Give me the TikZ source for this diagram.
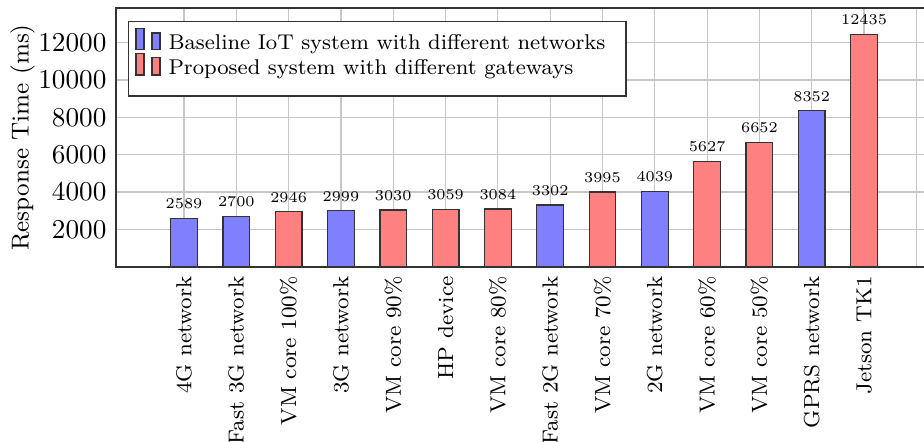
\documentclass[tikz,border=0pt]{standalone}
\definecolor{bblue}{RGB}{128,128,255}
\definecolor{bred}{RGB}{255,128,128}
\tikzset{
  barbox/.style={draw=black!80, line width=0.45pt},
  gridline/.style={draw=black!22, line width=0.45pt},
  axisline/.style={draw=black!80, line width=0.6pt},
  vallab/.style={font=\fontsize{5.5}{6}\selectfont, inner sep=0pt, anchor=base},
  xlab/.style={font=\fontsize{8}{9}\selectfont, rotate=90, anchor=east, inner sep=0.333em},
  ylab/.style={font=\fontsize{10}{12}\selectfont, anchor=east, inner sep=0.333em},
  legtext/.style={font=\fontsize{7.85}{9}\selectfont, anchor=base west, inner sep=0pt},
}
\begin{document}
\begin{tikzpicture}[x=0.3676pt, y=-0.3676pt]
\useasboundingbox (0,0) rectangle (924,442);
\clip (0,0) rectangle (924,442);
% grid
\foreach \i in {0,...,14} {
  \draw[gridline] ({184+52.31*\i},8.3) -- ({184+52.31*\i},266.7);
}
\foreach \v in {2000,4000,...,12000} {
  \draw[gridline] (116,{266.6-\v*0.01866}) -- (930,{266.6-\v*0.01866});
  \node[ylab] (yt\v) at (116,{266.6-\v*0.01866}) {\v};
}
% bars
\foreach \i/\lab/\v/\c in {
  0/4G network/2589/bblue,
  1/Fast 3G network/2700/bblue,
  2/VM core 100\%/2946/bred,
  3/3G network/2999/bblue,
  4/VM core 90\%/3030/bred,
  5/HP device/3059/bred,
  6/VM core 80\%/3084/bred,
  7/Fast 2G network/3302/bblue,
  8/VM core 70\%/3995/bred,
  9/2G network/4039/bblue,
  10/VM core 60\%/5627/bred,
  11/VM core 50\%/6652/bred,
  12/GPRS network/8352/bblue,
  13/Jetson TK1/12435/bred} {
  \pgfmathsetmacro\xc{184+52.31*\i}
  \pgfmathsetmacro\tp{266.6-\v*0.01866}
  \draw[barbox, fill=\c] (\xc-13.35,266.7) rectangle (\xc+13.35,\tp);
  \node[vallab] (v\i) at (\xc,\tp-9.6) {\v};
  \node[xlab] (x\i) at (\xc,266.7) {\lab};
}
% axis box
\draw[axisline] (930,8.3) -- (116,8.3) -- (116,266.7) -- (930,266.7);
% y label
\node[font=\fontsize{9}{10}\selectfont, rotate=90, inner sep=0pt] (ylabel) at (22.5,137.5) {Response Time (ms)};
% legend
\draw[draw=black!80, line width=0.5pt, fill=white] (128.3,21.7) rectangle (626,96);
\draw[barbox, fill=bblue] (136,49.3) rectangle (144,28.3);
\draw[barbox, fill=bblue] (152,49.3) rectangle (160,33);
\node[legtext] (l1) at (168,49.3) {Baseline IoT system with different networks};
\draw[barbox, fill=bred] (136,75) rectangle (144,53.5);
\draw[barbox, fill=bred] (152,75) rectangle (160,57.8);
\node[legtext] (l2) at (168,75) {Proposed system with different gateways};
\end{tikzpicture}
\end{document}
